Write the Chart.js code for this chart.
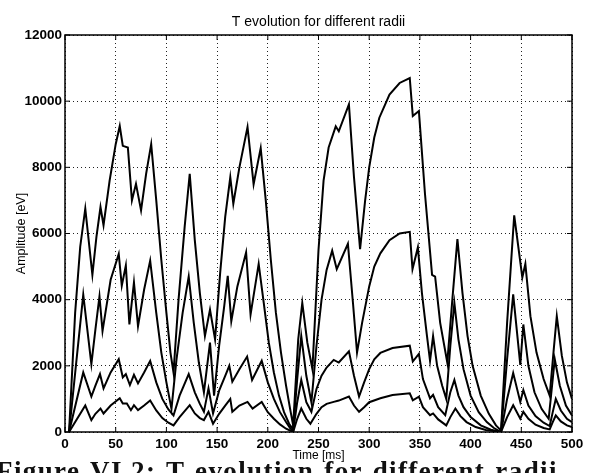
<!DOCTYPE html>
<html lang="en">
<head>
<meta charset="UTF-8" />
<title>T evolution for different radii</title>
<script src="https://cdn.jsdelivr.net/npm/chart.js"></script>
<style>
  html, body { margin: 0; padding: 0; background: #fff; }
  #lienzo { position: relative; width: 590px; height: 473px; overflow: hidden; }
  #grafico { position: absolute; left: 0; top: 0; }
  #pie { position: absolute; left: -4px; top: 458px; font: bold 27px 'Liberation Serif', serif; line-height: 1;
         letter-spacing: 1.4px; word-spacing: 2px; white-space: nowrap; color: #111; }
</style>
</head>
<body>
<div id="lienzo">
  <canvas id="grafico" width="590" height="473"></canvas>
  <div id="pie">Figure VI.2: T evolution for different radii</div>
</div>
<script>
// time [ms] and amplitude [eV], one pair per radius (outer curve = r1)
const t1 = [4, 10, 15, 20, 27, 31, 35, 38, 44, 50, 54, 57, 62, 66, 70, 75, 80, 85, 90, 95, 100, 104, 107,
  112, 118, 123, 128, 133, 138, 143, 148, 153, 158, 163, 166, 172, 180, 186, 193, 198, 203, 208, 213, 218, 222, 225,
  230, 234, 239, 244, 250, 255, 260, 267, 270, 280, 285, 291, 296, 300, 305, 310, 320, 330, 340, 343, 349,
  355, 362, 365, 370, 377, 382, 387, 392, 397, 402, 410, 418, 425, 430,
  436, 443, 451, 454, 459, 465, 472, 478, 482, 485, 490, 495, 500];
const r1 = [0, 3600, 5600, 6750, 4750, 5900, 6800, 6250, 7600, 8700, 9250, 8650, 8600, 7000, 7500, 6700, 7800, 8700, 7000, 5200, 3600, 2400, 1800,
  4000, 6200, 7800, 5800, 4200, 2900, 3700, 2800, 4800, 6500, 7700, 6900, 8000, 9220, 7490, 8580, 7000, 5200, 3600, 2400, 1400, 700, 200,
  2800, 3900, 2700, 1900, 5500, 7600, 8600, 9240, 9090, 9900, 7700, 5530, 7000, 8000, 8900, 9500, 10200, 10550, 10700, 9550, 9700,
  7200, 4750, 4700, 3300, 2100, 4000, 5830, 4200, 2900, 2000, 1100, 550, 200, 50,
  3300, 6550, 4670, 5080, 3500, 2400, 1600, 1100, 2500, 3500, 2300, 1500, 1000];

const t2 = [4, 18, 26, 30, 34, 37, 45, 53, 56, 60, 63.5, 68, 72, 78, 84, 90, 95, 100, 105,
  110, 116, 122, 127, 132, 137, 143, 147, 152, 157, 160.5, 164, 170, 178.6, 183, 191, 196, 201, 206, 211, 216, 221, 225,
  229, 233, 238, 243, 248, 253, 258, 263.5, 268, 279, 284, 288, 293, 300, 305, 311, 320, 330, 340, 342.7, 348,
  352, 357, 360, 363, 367, 372, 376, 380, 384, 388, 393, 400, 408, 416, 423, 430,
  436, 442, 449, 452, 457, 463, 470, 477, 480, 483, 488, 494, 500];
const r2 = [0, 4150, 2050, 3100, 4100, 3050, 4600, 5380, 4420, 5030, 3250, 4520, 3200, 4300, 5180, 3600, 2400, 1500, 700,
  2200, 3600, 4700, 3300, 2100, 1200, 2700, 1100, 2600, 3800, 4720, 3350, 4400, 5430, 3550, 5080, 3900, 2700, 1800, 1100, 600, 250, 80,
  1600, 2900, 1700, 900, 2600, 4000, 4900, 5480, 4920, 5690, 3900, 2400, 3300, 4400, 5000, 5400, 5800, 6000, 6050, 4920, 5580,
  4200, 2900, 2150, 2900, 2000, 1400, 1000, 2600, 3900, 2800, 1900, 1100, 600, 300, 120, 0,
  2200, 4160, 2030, 3250, 2000, 1200, 700, 400, 1300, 2200, 1400, 800, 500];

const t3 = [4, 18, 26, 30, 34.5, 38, 45, 53, 57, 60, 64, 68, 72, 78, 84, 90, 96, 102, 107,
  113, 122, 128, 133, 137, 141.5, 146, 152, 158, 162, 165, 172, 179.6, 184.5, 194, 200, 206, 212, 218, 222, 225,
  229, 233, 238, 243, 248, 253, 258, 265, 270, 280, 285, 290, 295, 300, 305, 311, 323, 340, 343, 349,
  353, 360, 363, 368, 375, 380, 384, 388, 393, 400, 410, 420, 430,
  436, 442, 449, 452, 457, 464, 472, 478, 481, 484, 489, 495, 500];
const r3 = [0, 1800, 1070, 1400, 1750, 1320, 1800, 2200, 1650, 1750, 1420, 1730, 1470, 1800, 2150, 1500, 1000, 680, 500,
  1100, 1750, 1200, 850, 610, 1320, 560, 1250, 1700, 2000, 1520, 1900, 2280, 1570, 2150, 1500, 1000, 600, 300, 120, 20,
  900, 1570, 900, 610, 1300, 1700, 1950, 2180, 2100, 2440, 1700, 1070, 1500, 1900, 2200, 2390, 2540, 2610, 2130, 2360,
  1600, 1020, 1120, 750, 510, 1200, 1570, 1100, 750, 450, 200, 70, 0,
  1000, 1780, 910, 1270, 800, 480, 280, 180, 600, 1000, 650, 400, 300];

const t4 = [4, 20, 26, 30, 35, 38, 45, 54, 57, 61, 65, 68, 72, 78, 84, 90, 96, 102, 107,
  113, 123, 128, 133, 137, 141.5, 146, 152, 158, 163, 165, 172, 180, 185, 194, 200, 206, 212, 218, 225,
  229, 233, 238, 242, 248, 253, 258, 265, 270, 280, 285, 290, 295, 300, 311, 323, 340, 343, 349,
  353, 360, 363, 368, 376, 380, 385, 390, 396, 405, 415, 430,
  436, 442, 449, 452, 457, 464, 472, 478, 481, 484, 489, 495, 500];
const r4 = [0, 800, 360, 550, 710, 560, 800, 1020, 860, 860, 660, 810, 660, 800, 950, 650, 420, 280, 200,
  450, 810, 560, 420, 360, 610, 250, 550, 800, 1000, 610, 800, 910, 710, 910, 600, 400, 230, 100, 0,
  400, 710, 400, 250, 550, 750, 850, 910, 950, 1070, 800, 610, 750, 900, 1020, 1120, 1170, 960, 1070,
  750, 510, 560, 380, 200, 450, 710, 480, 300, 150, 60, 0,
  450, 810, 400, 610, 400, 220, 120, 80, 300, 500, 320, 200, 150];

const xTicks = [0, 50, 100, 150, 200, 250, 300, 350, 400, 450, 500];
const yTicks = [0, 2000, 4000, 6000, 8000, 10000, 12000];

const fuente = '"Liberation Sans", Arial, sans-serif';

const marco = {
  id: 'marco',
  afterDraw(chart) {
    const { ctx, chartArea: { left, right, top, bottom }, scales: { x, y } } = chart;
    ctx.save();
    ctx.strokeStyle = '#000';
    ctx.lineWidth = 1.5;
    ctx.strokeRect(left, top, right - left, bottom - top);
    // matlab style inward ticks
    ctx.lineWidth = 1;
    ctx.beginPath();
    xTicks.forEach(v => {
      const px = x.getPixelForValue(v);
      ctx.moveTo(px, bottom); ctx.lineTo(px, bottom - 5);
      ctx.moveTo(px, top); ctx.lineTo(px, top + 5);
    });
    yTicks.forEach(v => {
      const py = y.getPixelForValue(v);
      ctx.moveTo(left, py); ctx.lineTo(left + 5, py);
      ctx.moveTo(right, py); ctx.lineTo(right - 5, py);
    });
    ctx.stroke();
    ctx.fillStyle = '#000';
    ctx.font = '14px ' + fuente;
    ctx.textAlign = 'center';
    ctx.textBaseline = 'middle';
    ctx.fillText('T evolution for different radii', (left + right) / 2, 22);
    ctx.restore();
  }
};

const curva = (t, r) => ({
  data: t.map((v, i) => ({ x: v, y: r[i] })),
  borderColor: '#000',
  borderWidth: 2,
  pointRadius: 0,
  tension: 0,
  fill: false
});

new Chart(document.getElementById('grafico'), {
  type: 'line',
  data: {
    datasets: [curva(t1, r1), curva(t2, r2), curva(t3, r3), curva(t4, r4)]
  },
  options: {
    responsive: false,
    animation: false,
    devicePixelRatio: 1,
    layout: { padding: { top: 35, right: 18, left: 0, bottom: 0 } },
    plugins: {
      legend: { display: false },
      tooltip: { enabled: false }
    },
    scales: {
      x: {
        type: 'linear',
        min: 0,
        max: 500,
        afterBuildTicks: s => { s.ticks = xTicks.map(v => ({ value: v })); },
        afterFit: s => { s.height = 41; },
        ticks: {
          color: '#000',
          padding: 4,
          maxRotation: 0,
          font: { family: fuente, size: 13.5, weight: 'bold' },
          callback: v => String(v)
        },
        grid: { color: '#222', lineWidth: 1, drawTicks: false },
        border: { display: false, dash: [1, 3] },
        title: {
          display: true,
          text: 'Time [ms]',
          color: '#000',
          font: { family: fuente, size: 12 },
          padding: { top: 0, bottom: 10 }
        }
      },
      y: {
        min: 0,
        max: 12000,
        afterBuildTicks: s => { s.ticks = yTicks.map(v => ({ value: v })); },
        afterFit: s => { s.width = 65; },
        ticks: {
          color: '#000',
          padding: 3,
          font: { family: fuente, size: 13.5, weight: 'bold' },
          callback: v => String(v)
        },
        grid: { color: '#222', lineWidth: 1, drawTicks: false },
        border: { display: false, dash: [1, 3] },
        title: {
          display: true,
          text: 'Amplitude [eV]',
          color: '#000',
          font: { family: fuente, size: 12.5 },
          padding: { top: 14, bottom: 0 }
        }
      }
    }
  },
  plugins: [marco]
});
</script>
</body>
</html>
